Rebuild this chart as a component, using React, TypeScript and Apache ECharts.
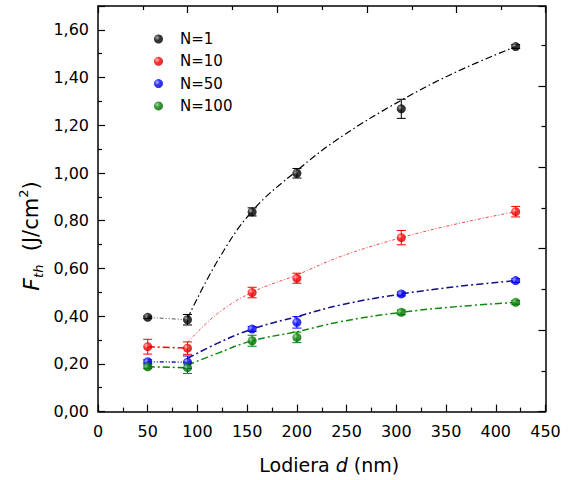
import React, { useEffect, useRef } from "react";
import * as echarts from "echarts";

const X = [50, 90, 155, 200, 305, 420];
const N1 = [0.395, 0.385, 0.837, 0.999, 1.269, 1.53];
const N10 = [0.272, 0.266, 0.499, 0.559, 0.729, 0.838];
const N50 = [0.209, 0.207, 0.346, 0.374, 0.493, 0.549];
const N100 = [0.188, 0.184, 0.297, 0.311, 0.416, 0.458];
const E1 = [0.005, 0.022, 0.017, 0.02, 0.04, 0.008];
const E10 = [0.031, 0.026, 0.022, 0.021, 0.03, 0.022];
const E50 = [0.008, 0.026, 0.01, 0.024, 0.008, 0.008];
const E100 = [0.008, 0.024, 0.023, 0.022, 0.01, 0.008];

// fitted curves
const FIT_X = [90, 120, 155, 200, 244, 305, 361, 420];
const FIT1 = [0.39, 0.63, 0.84, 1.01, 1.15, 1.305, 1.425, 1.53];
const FIT10 = [0.29, 0.41, 0.5, 0.573, 0.65, 0.729, 0.787, 0.838];
const FIT50 = [0.223, 0.286, 0.346, 0.398, 0.447, 0.493, 0.524, 0.549];
const FIT100 = [0.195, 0.244, 0.297, 0.335, 0.377, 0.416, 0.44, 0.458];

const NAMES = ["N=1", "N=10", "N=50", "N=100"];
const Y_TICKS_FMT = (v: number) => v.toFixed(2).replace(".", ",");

const FONT = "'DejaVu Sans', sans-serif";

const SERIES_CFG = [
  { name: NAMES[0], y: N1, e: E1, fit: FIT1, color: "#000000", hi: "#9a9a9a", dark: "#000000", fitColor: "#000000", fitW: 1.2, fitDash: [7, 3, 1.5, 3], conColor: "#555555", conW: 1, conDash: [4, 2, 1, 2, 1, 2] },
  { name: NAMES[1], y: N10, e: E10, fit: FIT10, color: "#ff0000", hi: "#ffb0b0", dark: "#c00000", fitColor: "#ee3333", fitW: 0.9, fitDash: [3, 2, 1, 2], conColor: "#ff0000", conW: 1.5, conDash: [7, 3, 2, 3] },
  { name: NAMES[2], y: N50, e: E50, fit: FIT50, color: "#0000ff", hi: "#a0a0ff", dark: "#0000c0", fitColor: "#10108a", fitW: 1.5, fitDash: [7, 3, 2, 3], conColor: "#0000cc", conW: 1.3, conDash: [4, 2, 1, 2, 1, 2] },
  { name: NAMES[3], y: N100, e: E100, fit: FIT100, color: "#008000", hi: "#90d090", dark: "#006000", fitColor: "#108a10", fitW: 1.5, fitDash: [7, 3, 2, 3], conColor: "#008000", conW: 1.5, conDash: [7, 3, 2, 3] },
];

function sphere(c: any) {
  return new echarts.graphic.RadialGradient(0.35, 0.35, 0.7, [
    { offset: 0, color: c.hi },
    { offset: 0.45, color: c.color },
    { offset: 1, color: c.dark },
  ]);
}

const axisCommon = {
  type: "value",
  axisLine: { show: true, onZero: false, lineStyle: { color: "#000", width: 1.5 } },
  axisTick: { show: true, inside: true, length: 7, lineStyle: { color: "#000", width: 1.2 } },
  minorTick: { show: true, splitNumber: 2, length: 4, lineStyle: { color: "#000", width: 1.2 } },
  splitLine: { show: false },
};

export default function App() {
  const ref = useRef<HTMLDivElement>(null);
  useEffect(() => {
    document.body.style.margin = "0";
    const chart = echarts.init(ref.current!, null, { renderer: "svg" });
    const series: any[] = [];
    SERIES_CFG.forEach((c, i) => {
      series.push({
        name: "con" + i,
        type: "line",
        data: [[X[0], c.y[0]], [X[1], c.y[1]]],
        symbol: "none",
        lineStyle: { color: c.conColor, width: c.conW, type: c.conDash },
        z: 2,
      });
      series.push({
        name: "fit" + i,
        type: "line",
        smooth: 0.4,
        data: FIT_X.map((x, k) => [x, c.fit[k]]),
        symbol: "none",
        lineStyle: { color: c.fitColor, width: c.fitW, type: c.fitDash },
        z: 2,
      });
      series.push({
        name: "err" + i,
        type: "custom",
        data: X.map((x, k) => [x, c.y[k] - c.e[k], c.y[k] + c.e[k]]),
        encode: { x: 0, y: [1, 2] },
        renderItem: (params: any, api: any) => {
          const x = api.value(0);
          const p1 = api.coord([x, api.value(1)]);
          const p2 = api.coord([x, api.value(2)]);
          const w = 4.5;
          const st = { stroke: c.color, lineWidth: 1 };
          return {
            type: "group",
            children: [
              { type: "line", shape: { x1: p1[0], y1: p1[1], x2: p2[0], y2: p2[1] }, style: st },
              { type: "line", shape: { x1: p1[0] - w, y1: p1[1], x2: p1[0] + w, y2: p1[1] }, style: st },
              { type: "line", shape: { x1: p2[0] - w, y1: p2[1], x2: p2[0] + w, y2: p2[1] }, style: st },
            ],
          };
        },
        z: 3,
      });
    });
    SERIES_CFG.forEach((c) => {
      series.push({
        name: c.name,
        type: "scatter",
        data: X.map((x, k) => [x, c.y[k]]),
        symbol: "circle",
        symbolSize: 9,
        itemStyle: { color: sphere(c) },
        z: 5,
      });
    });

    const tickLbl = { color: "#000", fontSize: 16, fontFamily: FONT };
    chart.setOption({
      animation: false,
      backgroundColor: "#fff",
      grid: { left: 98, right: 30.5, top: 6, bottom: 68.4, containLabel: false },
      legend: {
        data: NAMES,
        orient: "vertical",
        left: 149,
        top: 26,
        itemWidth: 9,
        itemHeight: 9,
        itemGap: 6.3,
        icon: "circle",
        textStyle: { color: "#000", fontSize: 15, fontFamily: FONT, padding: [0, 0, 0, 12], lineHeight: 16 },
      },
      graphic: [
        {
          type: "text",
          x: 31,
          y: 236,
          rotation: Math.PI / 2,
          style: {
            text: "{f|F}{sub|th}{n|  (J/cm}{sup|2}{n|)}",
            align: "center",
            verticalAlign: "middle",
            fill: "#000",
            rich: {
              f: { fontStyle: "italic", fontSize: 22, fontFamily: FONT, fill: "#000", lineHeight: 28, verticalAlign: "middle" },
              sub: { fontStyle: "italic", fontSize: 13, fontFamily: FONT, fill: "#000", lineHeight: 28, verticalAlign: "bottom" },
              n: { fontSize: 21, fontFamily: FONT, fill: "#000", lineHeight: 28, verticalAlign: "middle" },
              sup: { fontSize: 13, fontFamily: FONT, fill: "#000", lineHeight: 28, verticalAlign: "top" },
            },
          },
        },
      ],
      xAxis: [
        {
          ...axisCommon,
          min: 0,
          max: 450,
          interval: 50,
          position: "bottom",
          name: "Lodiera {i|d} (nm)",
          nameLocation: "middle",
          nameGap: 44,
          nameTextStyle: {
            color: "#000",
            fontSize: 19,
            fontFamily: FONT,
            padding: [0, 0, 0, 15],
            rich: { i: { fontStyle: "italic", fontSize: 19, fontFamily: FONT, color: "#000" } },
          },
          axisLabel: { ...tickLbl, margin: 12 },
        },
        {
          ...axisCommon,
          min: 0,
          max: 4.99,
          interval: 1,
          position: "top",
          axisLabel: { show: false },
        },
      ],
      yAxis: [
        {
          ...axisCommon,
          min: 0,
          max: 1.7,
          interval: 0.2,
          position: "left",
          axisLabel: { ...tickLbl, margin: 9, formatter: Y_TICKS_FMT, showMaxLabel: false },
        },
        {
          ...axisCommon,
          min: 0,
          max: 4.98,
          interval: 1,
          position: "right",
          axisLabel: { show: false },
        },
      ],
      series,
    });
    return () => chart.dispose();
  }, []);
  return <div ref={ref} style={{ width: 576, height: 480, position: "absolute", left: 0, top: 0 }} />;
}
